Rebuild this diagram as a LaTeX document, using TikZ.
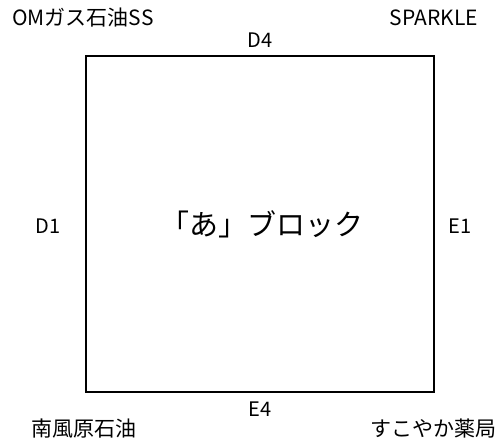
\documentclass[tikz,border=0pt]{standalone}
\usepackage{fontspec}
\setmainfont{Noto Sans CJK JP}
\usetikzlibrary{positioning}
\tikzset{%
    blockbox/.style = {draw, line width=1.2pt},
    sidelabel/.style = {font=\fontsize{20}{22}\selectfont, inner sep=0pt},
    shoplabel/.style = {font=\fontsize{21}{23}\selectfont, inner sep=0pt}
}

\begin{document}
\begin{tikzpicture}[x=1pt,y=-1pt]
    \useasboundingbox (0,0) rectangle (501,446);
    \draw[blockbox] (86,56) rectangle (434,392);
    \coordinate (blk) at (262,224);
    \node[font=\fontsize{29}{32}\selectfont, inner sep=0pt] (ablock) at (blk) {「あ」ブロック};

    \node[sidelabel] (D4) at (260,40) {D4};
    \node[sidelabel] (E4) at (260,409) {E4};
    \node[sidelabel] (D1) at (48,226) {D1};
    \node[sidelabel] (E1) at (460,226) {E1};

    \node[shoplabel, anchor=west] (om) at (12,18) {OMガス石油SS};
    \node[shoplabel, anchor=east] (spark) at (478,18) {SPARKLE};
    \node[shoplabel, anchor=west] (haebaru) at (31,429) {南風原石油};
    \node[shoplabel, anchor=east] (sukoyaka) at (497,429) {すこやか薬局};
\end{tikzpicture}
\end{document}
